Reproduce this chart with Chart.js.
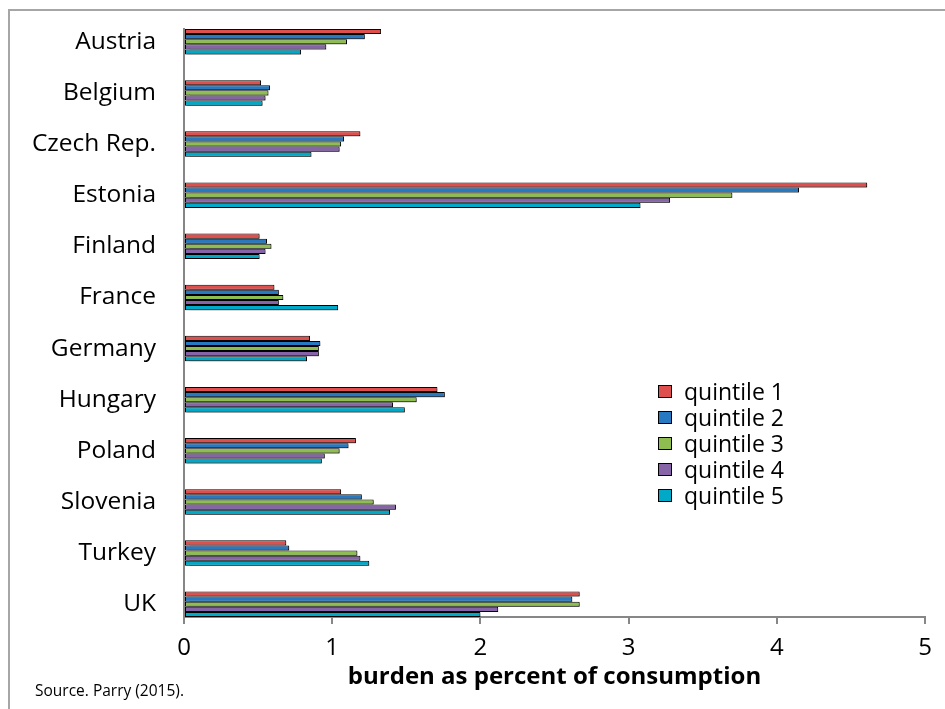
<!DOCTYPE html>
<html>
<head>
<meta charset="utf-8">
<script src="https://cdn.jsdelivr.net/npm/chart.js@4.4.1/dist/chart.umd.min.js"></script>
<style>
  html, body { margin: 0; padding: 0; background: #fff; overflow: hidden; }
  #wrap { position: relative; width: 945px; height: 709px; overflow: hidden; background: #fff; }
  #frame { position: absolute; left: 8px; top: 9px; width: 960px; height: 720px; border: 2px solid #a6a6a6; box-sizing: border-box; pointer-events: none; }
  canvas { position: absolute; left: 0; top: 0; }
  #legend { position: absolute; left: 658px; top: 378px; font-family: "Open Sans", sans-serif; font-size: 23px; color: #000; }
  .item { height: 26px; display: flex; align-items: center; white-space: nowrap; }
  .box { width: 14px; height: 13px; border: 1.5px solid #000; box-sizing: border-box; margin-right: 12px; }
  #source { position: absolute; left: 35px; top: 679px; font-family: "Open Sans", sans-serif; font-size: 15.5px; color: #000; white-space: nowrap; }
</style>
</head>
<body>
<div id="wrap">
  <canvas id="c" width="945" height="709"></canvas>
  <div id="frame"></div>
  <div id="legend"></div>
  <div id="source"></div>
</div>
<script>
const categories = ['Austria','Belgium','Czech Rep.','Estonia','Finland','France','Germany','Hungary','Poland','Slovenia','Turkey','UK'];
const quintile1 = [1.33, 0.52, 1.19, 4.61, 0.51, 0.61, 0.85, 1.71, 1.16, 1.06, 0.69, 2.67];
const quintile2 = [1.22, 0.58, 1.08, 4.15, 0.56, 0.64, 0.92, 1.76, 1.11, 1.20, 0.71, 2.62];
const quintile3 = [1.10, 0.57, 1.06, 3.70, 0.59, 0.67, 0.91, 1.57, 1.05, 1.28, 1.17, 2.67];
const quintile4 = [0.96, 0.55, 1.05, 3.28, 0.55, 0.64, 0.91, 1.41, 0.95, 1.43, 1.19, 2.12];
const quintile5 = [0.79, 0.53, 0.86, 3.08, 0.51, 1.04, 0.83, 1.49, 0.93, 1.39, 1.25, 2.00];
const seriesNames = ['quintile 1','quintile 2','quintile 3','quintile 4','quintile 5'];
const seriesColors = ['#DE4F4E','#2779C1','#8DBE4F','#8764A8','#00A9C8'];
const xTicks = [0, 1, 2, 3, 4, 5];
const axisTitle = 'burden as percent of consumption';
const sourceText = 'Source. Parry (2015).';

const allSeries = [quintile1, quintile2, quintile3, quintile4, quintile5];

const datasets = allSeries.map((vals, s) => ({
  label: seriesNames[s],
  data: vals.map((v, i) => ({ x: v, y: i })),
  backgroundColor: seriesColors[s],
  borderColor: '#000',
  borderWidth: 1,
  borderSkipped: false,
  categoryPercentage: 0.5,
  barPercentage: 1.0
}));

const axisGray = '#878787';

const shadowPlugin = {
  id: 'barShadow',
  beforeDatasetsDraw(chart) {
    const ctx = chart.ctx;
    ctx.save();
    ctx.shadowColor = 'rgba(0,0,0,0.35)';
    ctx.shadowOffsetX = 1.5;
    ctx.shadowOffsetY = 1.5;
    ctx.shadowBlur = 1;
  },
  afterDatasetsDraw(chart) {
    chart.ctx.restore();
  }
};

new Chart(document.getElementById('c'), {
  type: 'bar',
  data: { datasets },
  plugins: [shadowPlugin],
  options: {
    indexAxis: 'y',
    responsive: false,
    animation: false,
    devicePixelRatio: 1,
    layout: { padding: { top: 29, right: 20, bottom: 0, left: 0 } },
    plugins: { legend: { display: false }, tooltip: { enabled: false } },
    scales: {
      y: {
        type: 'linear',
        reverse: true,
        offset: false,
        min: -0.25,
        max: categories.length - 0.75,
        afterBuildTicks: (scale) => { scale.ticks = categories.map((c, i) => ({ value: i })); },
        afterFit: (scale) => { scale.width = 184; scale.paddingTop = 0; scale.paddingBottom = 0; },
        ticks: {
          callback: (v) => categories[v],
          font: { family: 'Open Sans', size: 24.5 },
          color: '#000',
          padding: 28,
          autoSkip: false
        },
        grid: { display: true, drawOnChartArea: false, drawTicks: false, color: 'rgba(0,0,0,0)' },
        border: { display: true, color: axisGray, width: 2 }
      },
      x: {
        type: 'linear',
        min: 0,
        max: 5,
        afterBuildTicks: (scale) => { scale.ticks = xTicks.map(v => ({ value: v })); },
        afterFit: (scale) => { scale.height = 709 - 617; scale.paddingLeft = 0; scale.paddingRight = 0; },
        ticks: {
          font: { family: 'Open Sans', size: 24 },
          color: '#000',
          padding: 10
        },
        grid: { display: true, drawOnChartArea: false, drawTicks: true, tickLength: 7, color: axisGray, lineWidth: 2 },
        border: { display: true, color: axisGray, width: 2 },
        title: {
          display: true,
          text: axisTitle,
          font: { family: 'Open Sans', size: 24, weight: 'bold' },
          color: '#000',
          padding: { top: 17, bottom: 17 }
        }
      }
    }
  }
});

const legend = document.getElementById('legend');
seriesNames.forEach((n, s) => {
  const it = document.createElement('div');
  it.className = 'item';
  const b = document.createElement('div');
  b.className = 'box';
  b.style.background = seriesColors[s];
  const t = document.createElement('span');
  t.textContent = n;
  it.appendChild(b); it.appendChild(t);
  legend.appendChild(it);
});
document.getElementById('source').textContent = sourceText;
</script>
</body>
</html>
